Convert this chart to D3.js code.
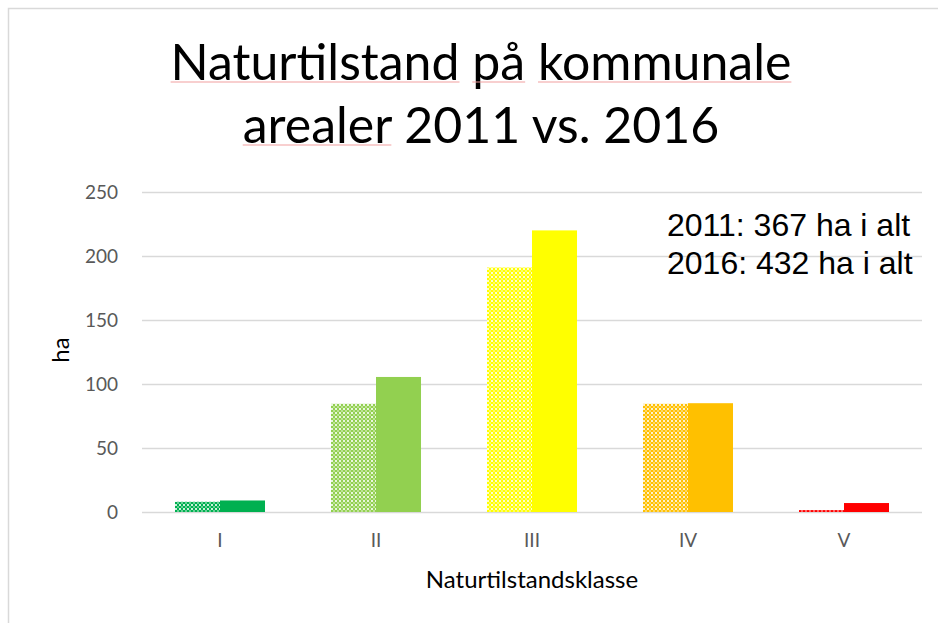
<!DOCTYPE html>
<html>
<head>
<meta charset="utf-8">
<script src="https://cdn.jsdelivr.net/npm/d3@7"></script>
<style>
  body { margin: 0; background: #fff; }
  svg { display: block; }
</style>
</head>
<body>
<script>
const width = 938;
const height = 623;

// data
const categories = ['I', 'II', 'III', 'IV', 'V'];
const values2011 = [8, 84.5, 191, 84.5, 1.5];
const values2016 = [9, 105.5, 220, 85, 7];
const colors = ['#00B050', '#92D050', '#FFFF00', '#FFC000', '#FF0000'];
const yTicks = [0, 50, 100, 150, 200, 250];
const titleLines = ['Naturtilstand på kommunale', 'arealer 2011 vs. 2016'];
const flaggedWords = ['Naturtilstand', 'på', 'kommunale', 'arealer']; // spell-check marks
const notes = ['2011: 367 ha i alt', '2016: 432 ha i alt'];

const margin = { top: 192, right: 16, bottom: 111, left: 142 };
const font = 'Lato, "Open Sans", sans-serif';

const svg = d3.select('body').append('svg').attr('width', width).attr('height', height);

// chart frame (only left and top edges are visible in the picture)
svg.append('rect')
    .attr('x', 8.5).attr('y', 8.5)
    .attr('width', width + 20).attr('height', height + 20)
    .attr('fill', 'none').attr('stroke', '#d9d9d9').attr('stroke-width', 1.5);

// checkered patterns for the 2011 bars
const defs = svg.append('defs');
colors.forEach((c, i) => {
    const p = defs.append('pattern')
        .attr('id', 'chk' + i)
        .attr('patternUnits', 'userSpaceOnUse')
        .attr('width', 4).attr('height', 4);
    p.append('rect').attr('width', 4).attr('height', 4).attr('fill', c);
    p.append('rect').attr('width', 2).attr('height', 2).attr('fill', '#fff').attr('opacity', 0.8);
    p.append('rect').attr('x', 2).attr('y', 2).attr('width', 2).attr('height', 2).attr('fill', '#fff').attr('opacity', 0.4);
});

const x = d3.scaleBand()
    .domain(categories)
    .range([margin.left, width - margin.right])
    .paddingInner(0.423)
    .paddingOuter(0.2115);

const x1 = d3.scaleBand().domain(['2011', '2016']).range([0, x.bandwidth()]);

const y = d3.scaleLinear().domain([0, 250]).range([height - margin.bottom, margin.top]);

// gridlines + y labels
const yAxis = svg.append('g')
    .attr('transform', `translate(${margin.left},0)`)
    .call(d3.axisLeft(y).tickValues(yTicks).tickSize(-(width - margin.left - margin.right)).tickPadding(24));
yAxis.select('.domain').remove();
yAxis.selectAll('.tick line').attr('stroke', '#d9d9d9').attr('stroke-width', 1.3);
yAxis.selectAll('.tick text')
    .attr('fill', '#595959')
    .style('font-family', font)
    .style('font-size', '19px');

// bars
const groups = svg.append('g').selectAll('g')
    .data(categories)
    .join('g')
    .attr('transform', d => `translate(${x(d)},0)`);

groups.append('rect')
    .attr('x', x1('2011'))
    .attr('width', x1.bandwidth())
    .attr('y', (d, i) => y(values2011[i]))
    .attr('height', (d, i) => y(0) - y(values2011[i]))
    .attr('fill', (d, i) => `url(#chk${i})`);

groups.append('rect')
    .attr('x', x1('2016'))
    .attr('width', x1.bandwidth())
    .attr('y', (d, i) => y(values2016[i]))
    .attr('height', (d, i) => y(0) - y(values2016[i]))
    .attr('fill', (d, i) => colors[i]);

// x axis labels
const xAxis = svg.append('g')
    .attr('transform', `translate(0,${y(0)})`)
    .call(d3.axisBottom(x).tickSize(0).tickPadding(22));
xAxis.select('.domain').remove();
xAxis.selectAll('.tick text')
    .attr('fill', '#595959')
    .style('font-family', font)
    .style('font-size', '19px');

// axis titles
svg.append('text')
    .attr('x', (margin.left + width - margin.right) / 2)
    .attr('y', 588)
    .attr('text-anchor', 'middle')
    .style('font-family', font)
    .style('font-size', '24px')
    .attr('fill', '#000')
    .text('Naturtilstandsklasse');

svg.append('text')
    .attr('transform', 'translate(69,350) rotate(-90)')
    .attr('text-anchor', 'middle')
    .style('font-family', font)
    .style('font-size', '24px')
    .attr('fill', '#000')
    .text('ha');

// title
titleLines.forEach((line, i) => {
    const baseY = 80 + i * 63;
    const t = svg.append('text')
        .attr('x', 481)
        .attr('y', baseY)
        .attr('text-anchor', 'middle')
        .style('font-family', font)
        .style('font-size', '50px')
        .attr('fill', '#000')
        .text(line);
    const node = t.node();
    flaggedWords.forEach(w => {
        const idx = line.indexOf(w);
        if (idx < 0) return;
        const x0 = node.getStartPositionOfChar(idx).x;
        const len = node.getSubStringLength(idx, w.length);
        svg.append('line')
            .attr('x1', x0).attr('x2', x0 + len)
            .attr('y1', baseY + 2).attr('y2', baseY + 2)
            .attr('stroke', '#f2a0a0').attr('stroke-width', 1.2);
    });
});

// notes
notes.forEach((line, i) => {
    svg.append('text')
        .attr('x', 667)
        .attr('y', 236 + i * 38)
        .style('font-family', '"Liberation Sans", Arial, sans-serif')
        .style('font-size', '32px')
        .attr('fill', '#000')
        .text(line);
});
</script>
</body>
</html>
